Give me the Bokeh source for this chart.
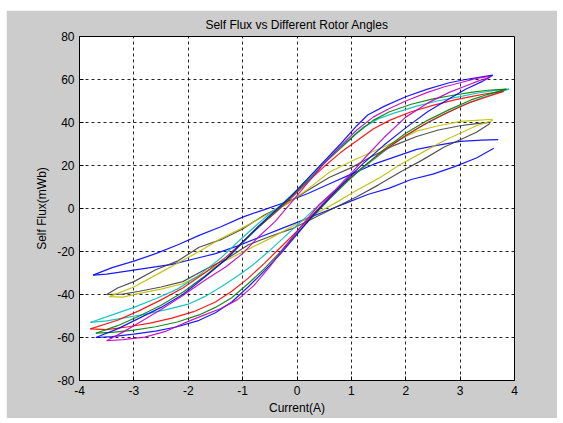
from bokeh.plotting import figure
from bokeh.models import Range1d, FixedTicker
from bokeh.embed import file_html
from bokeh.resources import INLINE

# ---------------- data ----------------
title_text = "Self Flux vs Different Rotor Angles"
x_label = "Current(A)"
y_label = "Self Flux(mWb)"
x_ticks = [-4, -3, -2, -1, 0, 1, 2, 3, 4]
x_tick_labels = ["-4", "-3", "-2", "-1", "0", "1", "2", "3", "4"]
y_ticks = [-80, -60, -40, -20, 0, 20, 40, 60, 80]
y_tick_labels = ["-80", "-60", "-40", "-20", "0", "20", "40", "60", "80"]

# small blue loop
bs_up_x = [3.7, 3.4, 3.0, 2.6, 2.2, 1.8, 1.4, 1.0, 0.6, 0.2, -0.2, -0.6, -1.0, -1.4, -1.8, -2.2, -2.6, -3.0, -3.4, -3.6, -3.75]
bs_up_y = [32.0, 31.8, 31.2, 29.5, 27.5, 24.0, 20.5, 16.0, 11.5, 7.0, 3.0, -0.5, -4.0, -8.5, -12.5, -17.0, -21.0, -24.5, -27.5, -29.5, -31.0]
bs_lo_x = [-3.75, -3.5, -3.1, -2.7, -2.3, -1.9, -1.5, -1.1, -0.7, -0.3, 0.1, 0.5, 0.9, 1.3, 1.7, 2.1, 2.5, 2.9, 3.3, 3.62]
bs_lo_y = [-31.0, -30.5, -29.0, -27.5, -26.0, -23.5, -21.0, -17.5, -13.5, -9.5, -5.5, -1.5, 2.5, 6.5, 9.5, 13.5, 16.0, 19.5, 23.5, 28.0]

# black (dark grey) loop
k_up_x = [3.55, 3.3, 3.0, 2.6, 2.2, 1.8, 1.4, 1.0, 0.6, 0.2, -0.2, -0.6, -1.0, -1.4, -1.8, -2.2, -2.6, -3.0, -3.3, -3.5]
k_up_y = [40.0, 39.5, 38.5, 36.5, 33.5, 29.5, 24.5, 19.0, 14.5, 8.5, 2.0, -3.0, -9.5, -14.5, -18.0, -24.5, -28.5, -34.0, -37.0, -40.0]
k_lo_x = [-3.5, -3.2, -2.9, -2.5, -2.1, -1.7, -1.3, -0.9, -0.5, -0.1, 0.3, 0.7, 1.1, 1.5, 1.9, 2.3, 2.7, 3.0, 3.3, 3.55]
k_lo_y = [-40.0, -39.8, -38.5, -36.5, -34.0, -28.5, -23.5, -17.0, -13.0, -9.5, -4.5, 0.5, 5.5, 11.0, 17.0, 22.5, 28.5, 32.0, 35.5, 39.5]

# yellow loop
yl_up_x = [3.6, 3.3, 3.0, 2.6, 2.2, 1.8, 1.4, 1.0, 0.6, 0.2, -0.2, -0.6, -1.0, -1.4, -1.8, -2.2, -2.6, -3.0, -3.3, -3.45]
yl_up_y = [41.5, 41.0, 40.5, 38.5, 36.0, 31.0, 26.5, 22.0, 17.0, 9.0, 2.0, -3.5, -9.0, -14.0, -20.0, -25.5, -31.0, -36.5, -39.5, -41.0]
yl_lo_x = [-3.45, -3.2, -2.9, -2.5, -2.1, -1.7, -1.3, -0.9, -0.5, -0.1, 0.3, 0.7, 1.1, 1.5, 1.9, 2.3, 2.7, 3.0, 3.3, 3.6]
yl_lo_y = [-41.0, -41.2, -39.5, -37.5, -35.0, -30.0, -24.0, -19.0, -14.0, -8.5, -3.0, 2.5, 8.5, 14.0, 20.5, 26.0, 31.5, 35.0, 38.5, 41.0]

# cyan loop
c_up_x = [3.9, 3.6, 3.3, 3.0, 2.6, 2.2, 1.8, 1.5, 1.2, 1.0, 0.7, 0.4, 0.0, -0.3, -0.6, -1.0, -1.4, -1.8, -2.2, -2.6, -3.0, -3.4, -3.8]
c_up_y = [55.5, 54.8, 53.6, 52.0, 50.1, 47.6, 44.5, 41.8, 37.5, 33.0, 26.5, 19.0, 8.5, 1.5, -4.5, -13.5, -23.0, -31.0, -37.5, -42.0, -46.0, -49.5, -53.0]
c_lo_x = [-3.8, -3.5, -3.2, -2.8, -2.4, -2.0, -1.7, -1.4, -1.1, -0.8, -0.5, -0.2, 0.1, 0.4, 0.7, 1.0, 1.4, 1.8, 2.2, 2.6, 3.0, 3.4, 3.9]
c_lo_y = [-53.0, -52.3, -51.0, -49.2, -47.0, -44.5, -41.0, -36.5, -31.5, -26.0, -19.5, -12.5, -5.5, 1.5, 8.5, 14.5, 22.5, 30.5, 37.0, 42.5, 47.5, 51.5, 55.5]

# red loop
r_up_x = [3.8, 3.5, 3.2, 2.9, 2.5, 2.1, 1.7, 1.4, 1.1, 0.8, 0.5, 0.2, -0.1, -0.4, -0.7, -1.0, -1.3, -1.7, -2.1, -2.5, -2.9, -3.3, -3.8]
r_up_y = [54.5, 53.5, 52.0, 50.5, 48.0, 45.0, 41.0, 37.0, 31.5, 26.0, 19.5, 12.5, 5.0, -2.0, -8.5, -15.5, -22.5, -30.0, -37.0, -42.5, -47.5, -52.0, -56.0]
r_lo_x = [-3.8, -3.5, -3.1, -2.7, -2.3, -1.9, -1.5, -1.2, -0.9, -0.6, -0.3, 0.0, 0.3, 0.6, 0.9, 1.2, 1.6, 2.0, 2.4, 2.8, 3.2, 3.5, 3.8]
r_lo_y = [-56.0, -56.3, -55.0, -53.3, -51.0, -48.0, -43.5, -38.5, -32.5, -25.5, -18.0, -10.5, -2.5, 5.5, 12.5, 19.0, 27.0, 34.0, 40.0, 45.0, 49.5, 52.0, 54.5]

# green loop
g_up_x = [3.85, 3.5, 3.2, 2.9, 2.5, 2.1, 1.7, 1.4, 1.1, 0.8, 0.5, 0.2, -0.1, -0.4, -0.7, -1.0, -1.3, -1.7, -2.1, -2.5, -2.9, -3.3, -3.7]
g_up_y = [55.5, 55.0, 54.0, 52.8, 51.0, 48.5, 45.0, 41.0, 35.0, 28.0, 21.0, 13.0, 5.5, -1.5, -8.5, -16.0, -23.5, -31.5, -39.0, -45.0, -50.0, -54.5, -58.0]
g_lo_x = [-3.7, -3.4, -3.0, -2.6, -2.2, -1.8, -1.5, -1.2, -0.9, -0.6, -0.3, 0.0, 0.3, 0.6, 0.9, 1.2, 1.6, 2.0, 2.4, 2.8, 3.2, 3.5, 3.85]
g_lo_y = [-58.0, -57.6, -56.6, -55.0, -52.8, -49.5, -46.0, -41.5, -35.0, -28.0, -20.0, -11.5, -3.5, 4.5, 12.0, 19.0, 27.5, 35.0, 41.0, 46.0, 50.5, 53.0, 55.5]

# large blue loop
b_up_x = [3.6, 3.4, 3.1, 2.8, 2.4, 2.0, 1.6, 1.3, 1.1, 0.8, 0.5, 0.2, -0.1, -0.4, -0.7, -1.0, -1.3, -1.7, -2.1, -2.5, -2.9, -3.3, -3.7]
b_up_y = [62.0, 61.2, 60.0, 58.5, 55.5, 52.0, 47.5, 43.5, 38.5, 30.0, 22.0, 14.0, 6.0, -1.0, -8.0, -15.5, -23.5, -32.0, -40.0, -46.0, -51.0, -56.0, -60.0]
b_lo_x = [-3.7, -3.4, -3.0, -2.6, -2.2, -1.8, -1.5, -1.2, -0.9, -0.6, -0.3, 0.0, 0.3, 0.6, 0.9, 1.2, 1.6, 2.0, 2.4, 2.8, 3.1, 3.4, 3.6]
b_lo_y = [-60.0, -59.6, -58.4, -57.0, -55.0, -52.0, -48.5, -43.5, -36.5, -29.0, -21.0, -12.0, -3.0, 5.0, 13.0, 20.5, 29.5, 37.5, 45.0, 51.0, 55.5, 59.0, 62.0]

# magenta loop
m_up_x = [3.55, 3.3, 3.0, 2.7, 2.4, 2.0, 1.7, 1.4, 1.1, 0.8, 0.5, 0.2, -0.1, -0.4, -0.7, -1.0, -1.3, -1.7, -2.1, -2.5, -2.9, -3.2, -3.5]
m_up_y = [61.5, 60.5, 58.5, 56.5, 54.0, 50.0, 46.5, 42.5, 36.5, 29.0, 21.0, 12.0, 3.0, -6.0, -13.0, -21.0, -27.0, -33.5, -40.5, -47.0, -53.0, -57.5, -61.5]
m_lo_x = [-3.5, -3.2, -2.8, -2.4, -2.0, -1.7, -1.4, -1.1, -0.8, -0.5, -0.2, 0.1, 0.4, 0.7, 1.0, 1.3, 1.6, 2.0, 2.4, 2.8, 3.1, 3.35, 3.55]
m_lo_y = [-61.5, -61.0, -59.8, -57.0, -52.5, -49.5, -46.5, -42.5, -36.0, -27.0, -17.0, -7.5, 1.5, 8.5, 16.5, 25.0, 33.0, 42.5, 49.0, 54.0, 57.0, 59.5, 61.0]

series = [
    ("#0000ff", bs_up_x, bs_up_y, bs_lo_x, bs_lo_y),
    ("#404040", k_up_x, k_up_y, k_lo_x, k_lo_y),
    ("#bfbf00", yl_up_x, yl_up_y, yl_lo_x, yl_lo_y),
    ("#00bfbf", c_up_x, c_up_y, c_lo_x, c_lo_y),
    ("#ff0000", r_up_x, r_up_y, r_lo_x, r_lo_y),
    ("#008000", g_up_x, g_up_y, g_lo_x, g_lo_y),
    ("#0000ff", b_up_x, b_up_y, b_lo_x, b_lo_y),
    ("#bf00bf", m_up_x, m_up_y, m_lo_x, m_lo_y),
]

# ---------------- figure ----------------
FONT = "Liberation Sans"
p = figure(width=551, height=408, output_backend="svg", toolbar_location=None,
           x_range=Range1d(-4, 4), y_range=Range1d(-80, 80),
           min_border_left=73, min_border_right=43, min_border_top=26, min_border_bottom=38,
           border_fill_color="#cccccc", background_fill_color="#ffffff",
           outline_line_color="#000000", outline_line_width=1)
p.margin = (10, 0, 0, 6)

p.title.text = title_text
p.title.align = "center"
p.title.text_font = FONT
p.title.text_font_size = "12px"
p.title.text_font_style = "normal"
p.title.text_color = "#000000"

for ax in (p.xaxis[0], p.yaxis[0]):
    ax.major_label_text_font = FONT
    ax.major_label_text_font_size = "12px"
    ax.major_label_text_color = "#000000"
    ax.axis_label_text_font = FONT
    ax.axis_label_text_font_size = "12px"
    ax.axis_label_text_font_style = "normal"
    ax.axis_label_text_color = "#000000"
    ax.axis_line_color = "#000000"
    ax.major_tick_line_color = "#000000"
    ax.major_tick_in = 4
    ax.major_tick_out = 0
    ax.minor_tick_line_color = None
    ax.major_label_standoff = 5

p.xaxis[0].ticker = FixedTicker(ticks=x_ticks)
p.yaxis[0].ticker = FixedTicker(ticks=y_ticks)
p.xaxis[0].major_label_overrides = {t: s for t, s in zip(x_ticks, x_tick_labels)}
p.yaxis[0].major_label_overrides = {t: s for t, s in zip(y_ticks, y_tick_labels)}
p.xaxis[0].axis_label = x_label
p.yaxis[0].axis_label = y_label
p.xaxis[0].axis_label_standoff = 3
p.yaxis[0].axis_label_standoff = 5

for g in (p.xgrid[0], p.ygrid[0]):
    g.grid_line_color = "#000000"
    g.grid_line_dash = "3 3"
    g.grid_line_width = 1
    g.grid_line_alpha = 0.85

for col, ux, uy, lx, ly in series:
    p.line(lx, ly, line_color=col, line_width=1.2, line_alpha=0.9)
    p.line(ux, uy, line_color=col, line_width=1.2, line_alpha=0.9)

open("out.html", "w").write(file_html(p, INLINE))
